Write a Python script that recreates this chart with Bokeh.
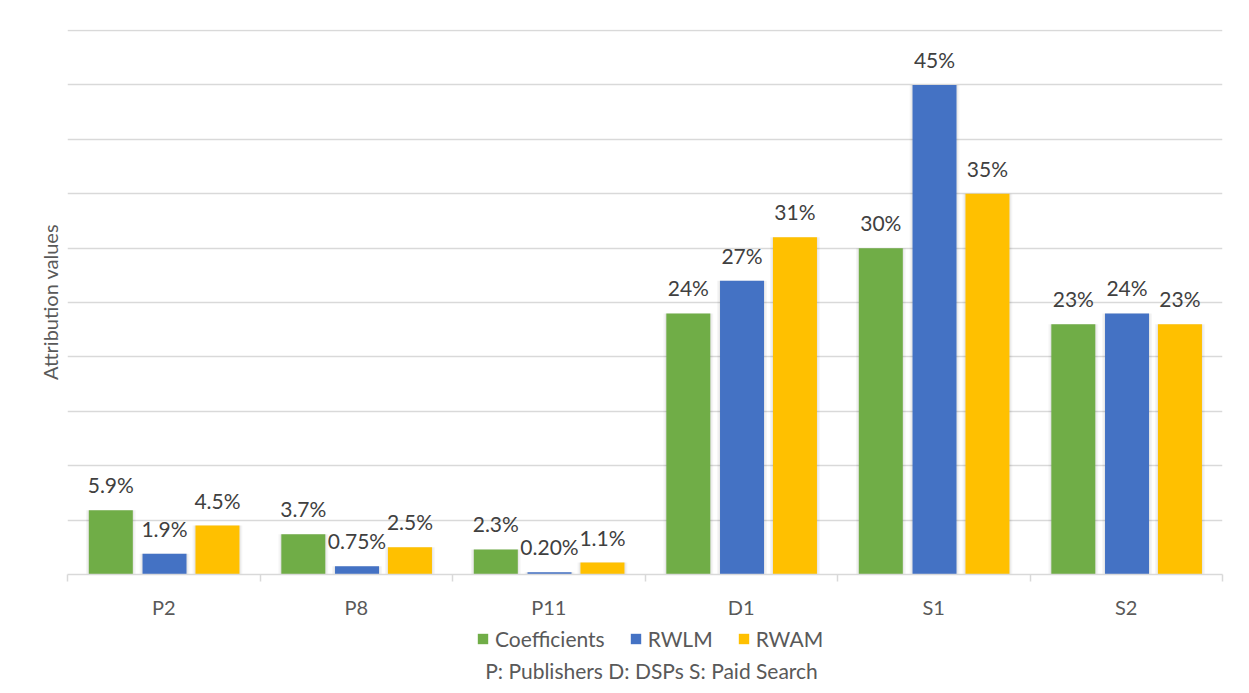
from bokeh.plotting import figure
from bokeh.layouts import column
from bokeh.models import (Range1d, LinearAxis, FixedTicker, Label,
                          ColumnDataSource, LabelSet, Legend, LegendItem)
from bokeh.transform import dodge
from bokeh.core.properties import value
from bokeh.embed import file_html
from bokeh.resources import INLINE

categories = ["P2", "P8", "P11", "D1", "S1", "S2"]
coefficients = [5.9, 3.7, 2.3, 24, 30, 23]
rwlm = [1.9, 0.75, 0.20, 27, 45, 24]
rwam = [4.5, 2.5, 1.1, 31, 35, 23]
coefficients_labels = ["5.9%", "3.7%", "2.3%", "24%", "30%", "23%"]
rwlm_labels = ["1.9%", "0.75%", "0.20%", "27%", "45%", "24%"]
rwam_labels = ["4.5%", "2.5%", "1.1%", "31%", "35%", "23%"]
series_names = ["Coefficients", "RWLM", "RWAM"]
series_colors = ["#70ad47", "#4472c4", "#ffc000"]
grid_ticks = list(range(0, 55, 5))
note = "P: Publishers D: DSPs S: Paid Search"

FONT = "Lato"
TXT = "#595959"
W = 1249
BL, BR = 67, 27

n = len(categories)
centers = [i + 0.5 for i in range(n)]
src = ColumnDataSource(dict(xc=centers, coef=coefficients, rwlm=rwlm, rwam=rwam,
                            coef_l=coefficients_labels, rwlm_l=rwlm_labels, rwam_l=rwam_labels))

p = figure(x_range=Range1d(0, n), y_range=Range1d(0, 50.1),
           width=W, height=622, output_backend="svg", toolbar_location=None,
           x_axis_location=None, title=None,
           min_border_left=BL, min_border_right=BR, min_border_top=29, min_border_bottom=48)
p.outline_line_color = None
p.background_fill_color = "white"
p.border_fill_color = "white"

# y axis: only title
p.yaxis.ticker = FixedTicker(ticks=[])
p.yaxis.axis_line_color = None
p.yaxis.major_tick_line_color = None
p.yaxis.minor_tick_line_color = None
p.yaxis.axis_label = "Attribution values"
p.yaxis.axis_label_text_font = FONT
p.yaxis.axis_label_text_font_size = "20px"
p.yaxis.axis_label_text_font_style = "normal"
p.yaxis.axis_label_text_color = TXT
p.yaxis.axis_label_standoff = 6

for g in p.ygrid:
    g.ticker = FixedTicker(ticks=grid_ticks)
    g.grid_line_color = "#d9d9d9"
    g.grid_line_width = 1.5
for g in p.xgrid:
    g.visible = False

# x axis: ticks at category boundaries, labels at centers
bounds = list(range(n + 1))
tick_axis = LinearAxis(ticker=FixedTicker(ticks=bounds),
                       major_label_overrides={b: "" for b in bounds},
                       major_label_text_font_size="1px",
                       axis_line_color="#d9d9d9", axis_line_width=1.5,
                       major_tick_line_color="#d9d9d9", major_tick_line_width=1.5,
                       major_tick_in=0, major_tick_out=7, minor_tick_line_color=None,
                       major_label_standoff=0)
p.add_layout(tick_axis, "below")
cat_axis = LinearAxis(ticker=FixedTicker(ticks=centers),
                      major_label_overrides={c: lab for c, lab in zip(centers, categories)},
                      axis_line_color=None, major_tick_line_color=None, minor_tick_line_color=None,
                      major_label_text_font=FONT, major_label_text_font_size="20px",
                      major_label_text_color=TXT, major_label_standoff=7)
p.add_layout(cat_axis, "below")

fields = [("coef", "coef_l", -0.275), ("rwlm", "rwlm_l", 0.004), ("rwam", "rwam_l", 0.279)]
bw = 0.2286
for (f, lf, off), col in zip(fields, series_colors):
    xs = dodge("xc", off)
    p.vbar(x=xs, top=f, width=bw + 0.03, source=src, fill_color="black", fill_alpha=0.04, line_color=None)
    p.vbar(x=xs, top=f, width=bw + 0.014, source=src, fill_color="black", fill_alpha=0.05, line_color=None)
    p.vbar(x=xs, top=f, width=bw, source=src, fill_color=col, line_color=None)
    p.add_layout(LabelSet(x=xs, y=f, text=lf, source=src, text_align="center",
                          text_baseline="alphabetic", y_offset=17,
                          text_font=value(FONT), text_font_size="21px", text_color="#404040"))

# bottom strip: legend and note (frame aligned with the main plot's frame, x in page pixels)
H2 = 71
p2 = figure(x_range=Range1d(BL, W - BR), y_range=Range1d(0, H2), width=W, height=H2,
            output_backend="svg", toolbar_location=None, title=None,
            x_axis_location=None, y_axis_location=None,
            min_border_left=BL, min_border_right=BR, min_border_top=0, min_border_bottom=0)
p2.outline_line_color = None
p2.background_fill_color = "white"
p2.border_fill_color = "white"
p2.grid.visible = False
items = []
for name, col in zip(series_names, series_colors):
    # legend-only renderer (zero-size, nothing drawn)
    r = p2.vbar(x=[-1000], top=[0], width=0, fill_color=col, line_color=None)
    items.append(LegendItem(label=name, renderers=[r]))
legend = Legend(items=items, orientation="horizontal", location=(476 - BL, 42),
                border_line_color=None, background_fill_alpha=0,
                label_text_font=FONT, label_text_font_size="21px", label_text_color=TXT,
                glyph_width=13, glyph_height=13, label_height=25, label_standoff=6, spacing=24,
                padding=0, margin=0)
p2.add_layout(legend, "center")
p2.add_layout(Label(x=651, y=23, text=note, text_align="center", text_baseline="alphabetic",
                    text_font=FONT, text_font_size="21px", text_color=TXT))

layout = column(p, p2, spacing=0)
open("out.html", "w").write(file_html(layout, INLINE))
